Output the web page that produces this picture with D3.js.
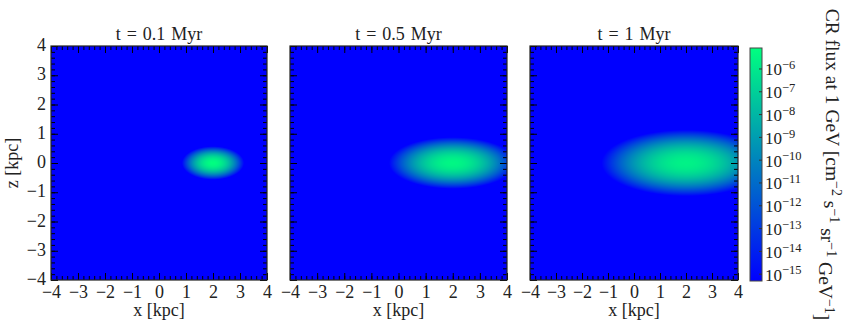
<!DOCTYPE html>
<html>
<head>
<meta charset="utf-8">
<script src="https://cdn.jsdelivr.net/npm/d3@7"></script>
<style>
  body { margin: 0; background: #fff; }
  text { font-family: "Liberation Serif", "DejaVu Serif", serif; fill: #222; }
</style>
</head>
<body>
<svg id="chart" width="843" height="329"></svg>
<script>
// snapshot times and blob shape
var times = ["0.1", "0.5", "1"];
var centerX = [2.0, 2.0, 2.0];        // kpc
var centerZ = [0.0, 0.0, 0.0];        // kpc
var halfX = [1.15, 2.35, 3.25];       // kpc, where flux drops to the colorbar floor
var halfZ = [0.57, 0.88, 1.13];       // kpc
var peakLog = [-5.1, -5.4, -5.6];     // log10 flux at the centre

var axisTicks = [-4, -3, -2, -1, 0, 1, 2, 3, 4];
var cbarExp = [-15, -14, -13, -12, -11, -10, -9, -8, -7, -6];
var cbarRange = [-15.3, -5.08];

var svg = d3.select("#chart");

var panelBox = [
    {left: 51, right: 267},
    {left: 290, right: 507},
    {left: 530, right: 738}
];
var plotTop = 46, plotBottom = 280;

var color = d3.scaleLinear()
    .domain(cbarRange)
    .range(["#0000ff", "#00ff80"])
    .interpolate(d3.interpolateRgb)
    .clamp(true);

function fieldLog(k, xv, zv) {
    var r2 = Math.pow((xv - centerX[k]) / halfX[k], 2) + Math.pow((zv - centerZ[k]) / halfZ[k], 2);
    return cbarRange[0] + (peakLog[k] - cbarRange[0]) * (1 - r2);
}

times.forEach(function(t, k) {
    var box = panelBox[k];
    var w = box.right - box.left, h = plotBottom - plotTop;

    var x = d3.scaleLinear().domain([-4, 4]).range([box.left, box.right]);
    var z = d3.scaleLinear().domain([-4, 4]).range([plotBottom, plotTop]);

    // heat map into a canvas, then into the svg
    var canvas = document.createElement("canvas");
    canvas.width = w; canvas.height = h;
    var ctx = canvas.getContext("2d");
    var img = ctx.createImageData(w, h);
    for (var j = 0; j < h; j++) {
        var zv = z.invert(plotTop + j + 0.5);
        for (var i = 0; i < w; i++) {
            var xv = x.invert(box.left + i + 0.5);
            var c = d3.rgb(color(fieldLog(k, xv, zv)));
            var p = (j * w + i) * 4;
            img.data[p] = c.r; img.data[p + 1] = c.g; img.data[p + 2] = c.b; img.data[p + 3] = 255;
        }
    }
    ctx.putImageData(img, 0, 0);

    var g = svg.append("g");
    g.append("image")
        .attr("x", box.left).attr("y", plotTop)
        .attr("width", w).attr("height", h)
        .attr("preserveAspectRatio", "none")
        .attr("href", canvas.toDataURL());

    // major + minor ticks on all four sides, pointing in
    var fmt = d3.format("d");
    g.append("g").attr("class", "axis")
        .attr("transform", "translate(0," + plotBottom + ")")
        .call(d3.axisBottom(x).tickValues(axisTicks).tickFormat(fmt).tickSizeInner(-7).tickSizeOuter(0).tickPadding(5));
    g.append("g").attr("class", "axis")
        .attr("transform", "translate(0," + plotBottom + ")")
        .call(d3.axisBottom(x).ticks(40).tickFormat("").tickSizeInner(-4).tickSizeOuter(0));
    g.append("g").attr("class", "axis")
        .attr("transform", "translate(0," + plotTop + ")")
        .call(d3.axisTop(x).tickValues(axisTicks).tickFormat("").tickSizeInner(-7).tickSizeOuter(0));
    g.append("g").attr("class", "axis")
        .attr("transform", "translate(0," + plotTop + ")")
        .call(d3.axisTop(x).ticks(40).tickFormat("").tickSizeInner(-4).tickSizeOuter(0));

    var yAx = g.append("g").attr("class", "axis")
        .attr("transform", "translate(" + box.left + ",0)")
        .call(d3.axisLeft(z).tickValues(axisTicks).tickFormat(k === 0 ? fmt : "").tickSizeInner(-7).tickSizeOuter(0).tickPadding(5));
    yAx.selectAll("text").attr("dy", "0.25em");
    g.append("g").attr("class", "axis")
        .attr("transform", "translate(" + box.left + ",0)")
        .call(d3.axisLeft(z).ticks(40).tickFormat("").tickSizeInner(-4).tickSizeOuter(0));
    g.append("g").attr("class", "axis")
        .attr("transform", "translate(" + box.right + ",0)")
        .call(d3.axisRight(z).tickValues(axisTicks).tickFormat("").tickSizeInner(-7).tickSizeOuter(0));
    g.append("g").attr("class", "axis")
        .attr("transform", "translate(" + box.right + ",0)")
        .call(d3.axisRight(z).ticks(40).tickFormat("").tickSizeInner(-4).tickSizeOuter(0));

    g.append("rect")
        .attr("x", box.left).attr("y", plotTop)
        .attr("width", w).attr("height", h)
        .attr("fill", "none").attr("stroke", "#222").attr("stroke-width", 1.2);

    g.append("text")
        .attr("x", (box.left + box.right) / 2).attr("y", plotTop - 6)
        .attr("text-anchor", "middle").attr("font-size", 18)
        .attr("word-spacing", 1.5)
        .text("t = " + t + " Myr");

    g.append("text")
        .attr("x", (box.left + box.right) / 2).attr("y", 316)
        .attr("text-anchor", "middle").attr("font-size", 18)
        .text("x [kpc]");

    if (k === 0) {
        g.append("text")
            .attr("transform", "translate(18," + (plotTop + plotBottom) / 2 + ") rotate(-90)")
            .attr("text-anchor", "middle").attr("font-size", 18)
            .text("z [kpc]");
    }
});

svg.selectAll(".axis .domain").remove();
svg.selectAll(".axis line").attr("stroke", "#000").attr("stroke-width", 1);
svg.selectAll(".axis text").attr("font-size", 18).attr("fill", "#222")
    .style("font-family", "'Liberation Serif', serif");

// colorbar
var cb = {left: 750, right: 762, top: 48, bottom: 281};
var cbScale = d3.scaleLinear().domain(cbarRange).range([cb.bottom, cb.top]);

var grad = svg.append("defs").append("linearGradient")
    .attr("id", "cbgrad").attr("x1", 0).attr("y1", 1).attr("x2", 0).attr("y2", 0);
grad.selectAll("stop").data(color.range()).enter().append("stop")
    .attr("offset", function(d, i) { return i; })
    .attr("stop-color", function(d) { return d; });

svg.append("rect")
    .attr("x", cb.left).attr("y", cb.top)
    .attr("width", cb.right - cb.left).attr("height", cb.bottom - cb.top)
    .attr("fill", "url(#cbgrad)").attr("stroke", "#444").attr("stroke-width", 1);

var cbTicks = svg.append("g").selectAll("g").data(cbarExp).enter().append("g")
    .attr("transform", function(d) { return "translate(0," + cbScale(d) + ")"; });
cbTicks.append("line")
    .attr("x1", cb.right - 3).attr("x2", cb.right).attr("stroke", "#333");
var lbl = cbTicks.append("text")
    .attr("x", cb.right + 3).attr("dy", "0.38em").attr("font-size", 17);
lbl.append("tspan").text("10");
lbl.append("tspan").attr("dy", "-0.5em").attr("font-size", 12.5).text(function(d) { return "\u2212" + Math.abs(d); });

// colorbar label, reading downwards
var cl = svg.append("text")
    .attr("transform", "translate(826," + (cb.top + cb.bottom) / 2 + ") rotate(90)")
    .attr("text-anchor", "middle").attr("font-size", 19.5);
cl.append("tspan").text("CR flux at 1 GeV [cm");
cl.append("tspan").attr("dy", "-0.45em").attr("font-size", 14).text("\u22122");
cl.append("tspan").attr("dy", "0.45em").text(" s");
cl.append("tspan").attr("dy", "-0.45em").attr("font-size", 14).text("\u22121");
cl.append("tspan").attr("dy", "0.45em").text(" sr");
cl.append("tspan").attr("dy", "-0.45em").attr("font-size", 14).text("\u22121");
cl.append("tspan").attr("dy", "0.45em").text(" GeV");
cl.append("tspan").attr("dy", "-0.45em").attr("font-size", 14).text("\u22121");
cl.append("tspan").attr("dy", "0.45em").text("]");
</script>
</body>
</html>
